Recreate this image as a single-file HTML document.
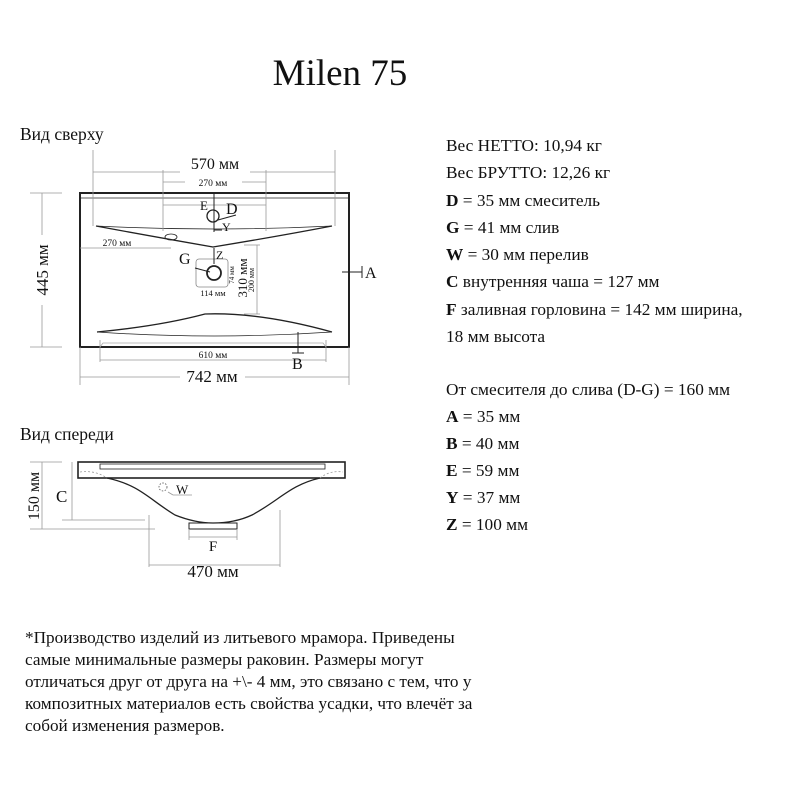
<!DOCTYPE html>
<html><head><meta charset="utf-8"><style>
body{margin:0;background:#fff}
svg{display:block}
text{font-family:"Liberation Serif",serif;fill:#111}
</style></head><body>
<svg width="800" height="800" viewBox="0 0 800 800" xmlns="http://www.w3.org/2000/svg">
<text x="340" y="85" font-size="37" text-anchor="middle">Milen 75</text>
<text x="20" y="140" font-size="17.5">Вид сверху</text>

<!-- top view -->
<g fill="none" stroke="#222" stroke-width="1.3">
<rect x="80" y="193" width="269" height="154" stroke-width="2"/>
<line x1="80" y1="198" x2="349" y2="198" stroke-width="0.7"/>
<path d="M96 226 Q150 236 213 247 Q280 236 332 226" />
<path d="M96 226 Q214 232 332 226" stroke-width="0.7"/>
<path d="M97 332 Q160 326 205 314 Q260 312 332 332"/>
<path d="M97 332 Q214 340 332 332" stroke-width="0.7"/>
<circle cx="213" cy="216" r="6"/>
<ellipse cx="171" cy="237" rx="6" ry="3" stroke-width="0.8"/>
<rect x="196" y="259" width="32" height="28" rx="3" stroke="#888" stroke-width="0.8"/>
<circle cx="214" cy="273" r="7" stroke-width="1.8"/>
<path d="M100 347 L103 343 L323 343 L326 347" stroke="#aaa" stroke-width="0.8"/>
</g>
<g stroke="#999" stroke-width="0.8" fill="none">
<line x1="93" y1="150" x2="93" y2="226"/><line x1="335" y1="150" x2="335" y2="226"/>
<line x1="93" y1="172" x2="180" y2="172"/><line x1="250" y1="172" x2="335" y2="172"/>
<line x1="163" y1="170" x2="163" y2="231"/><line x1="266" y1="170" x2="266" y2="231"/>
<line x1="163" y1="182" x2="185" y2="182"/><line x1="242" y1="182" x2="266" y2="182"/>
<line x1="163" y1="205" x2="266" y2="205"/>
<line x1="80" y1="248" x2="171" y2="248"/>
<line x1="257" y1="245" x2="257" y2="314"/><line x1="244" y1="245" x2="260" y2="245"/><line x1="244" y1="314" x2="260" y2="314"/>
<line x1="100" y1="340" x2="100" y2="362"/><line x1="326" y1="340" x2="326" y2="362"/>
<line x1="100" y1="360" x2="326" y2="360"/>
<line x1="80" y1="347" x2="80" y2="385"/><line x1="349" y1="347" x2="349" y2="385"/>
<line x1="80" y1="377" x2="180" y2="377"/><line x1="245" y1="377" x2="349" y2="377"/>
<line x1="30" y1="193" x2="62" y2="193"/><line x1="30" y1="347" x2="62" y2="347"/>
<line x1="42" y1="193" x2="42" y2="235"/><line x1="42" y1="305" x2="42" y2="347"/>
</g>
<g stroke="#222" stroke-width="1" fill="none">
<line x1="214" y1="193" x2="214" y2="232"/>
<line x1="214" y1="248" x2="214" y2="264"/>
<line x1="218" y1="220" x2="236" y2="215"/>
<line x1="214" y1="230" x2="222" y2="230"/>
<line x1="195" y1="268" x2="210" y2="272"/>
<line x1="342" y1="272" x2="362" y2="272"/><line x1="362" y1="266" x2="362" y2="278"/>
<line x1="298" y1="332" x2="298" y2="353"/><line x1="292" y1="353" x2="304" y2="353"/>
</g>
<text x="215" y="169" font-size="16" text-anchor="middle">570 мм</text>
<text x="213" y="186" font-size="9.5" text-anchor="middle">270 мм</text>
<text x="117" y="246" font-size="9.5" text-anchor="middle">270 мм</text>
<text x="200" y="210" font-size="13">E</text>
<text x="226" y="214" font-size="16">D</text>
<text x="222" y="231" font-size="12">Y</text>
<text x="216" y="259" font-size="12">Z</text>
<text x="179" y="264" font-size="16">G</text>
<text x="213" y="296" font-size="8.5" text-anchor="middle">114 мм</text>
<text transform="translate(234,275) rotate(-90)" font-size="7" text-anchor="middle">74 мм</text>
<text transform="translate(247,278) rotate(-90)" font-size="13" text-anchor="middle">310 мм</text>
<text transform="translate(254,280) rotate(-90)" font-size="8" text-anchor="middle">200 мм</text>
<text x="365" y="278" font-size="16">A</text>
<text x="213" y="358" font-size="9.5" text-anchor="middle">610 мм</text>
<text x="292" y="369" font-size="16">B</text>
<text x="212" y="382" font-size="17" text-anchor="middle">742 мм</text>
<text transform="translate(48,270) rotate(-90)" font-size="17" text-anchor="middle">445 мм</text>

<!-- front view -->
<text x="20" y="440" font-size="17.5">Вид спереди</text>
<g fill="none" stroke="#222" stroke-width="1.3">
<rect x="78" y="462" width="267" height="16" stroke-width="1.6"/>
<rect x="100" y="464" width="225" height="5" stroke-width="0.8"/>
<path d="M107 478 C140 485 150 500 175 515 Q195 523 213 523 Q235 523 252 515 C280 500 290 485 320 478"/>
<rect x="189" y="523" width="48" height="6" stroke-width="1"/>
</g>
<g fill="none" stroke="#999" stroke-width="0.8">
<path d="M80 472 Q95 470 107 478" stroke-dasharray="2 2"/>
<path d="M320 478 Q330 470 343 472" stroke-dasharray="2 2"/>
<circle cx="163" cy="487" r="4" stroke-dasharray="1.5 1.5" stroke="#555"/>
<line x1="168" y1="492" x2="173" y2="495"/><line x1="173" y1="495" x2="192" y2="495"/>
<line x1="30" y1="462" x2="62" y2="462"/><line x1="30" y1="529" x2="155" y2="529"/>
<line x1="42" y1="462" x2="42" y2="529"/>
<line x1="62" y1="520" x2="145" y2="520"/>
<line x1="72" y1="462" x2="72" y2="520"/>
<line x1="189" y1="529" x2="189" y2="540"/><line x1="237" y1="529" x2="237" y2="540"/>
<line x1="189" y1="537" x2="237" y2="537"/>
<line x1="149" y1="515" x2="149" y2="567"/><line x1="280" y1="510" x2="280" y2="567"/>
<line x1="149" y1="565" x2="280" y2="565"/>
</g>
<text x="56" y="502" font-size="17">C</text>
<text x="176" y="494" font-size="13">W</text>
<text x="213" y="551" font-size="15" text-anchor="middle">F</text>
<text x="213" y="577" font-size="17" text-anchor="middle">470 мм</text>
<text transform="translate(39,496) rotate(-90)" font-size="16" text-anchor="middle">150 мм</text>

<!-- right column -->
<g font-size="17.3">
<text x="446" y="151">Вес НЕТТО: 10,94 кг</text>
<text x="446" y="178">Вес БРУТТО: 12,26 кг</text>
<text x="446" y="206"><tspan font-weight="bold">D</tspan> = 35 мм смеситель</text>
<text x="446" y="233"><tspan font-weight="bold">G</tspan> = 41 мм слив</text>
<text x="446" y="260"><tspan font-weight="bold">W</tspan> = 30 мм перелив</text>
<text x="446" y="287"><tspan font-weight="bold">C</tspan> внутренняя чаша = 127 мм</text>
<text x="446" y="315"><tspan font-weight="bold">F</tspan> заливная горловина = 142 мм ширина,</text>
<text x="446" y="342">18 мм высота</text>
<text x="446" y="395">От смесителя до слива (D-G) = 160 мм</text>
<text x="446" y="422"><tspan font-weight="bold">A</tspan> = 35 мм</text>
<text x="446" y="449"><tspan font-weight="bold">B</tspan> = 40 мм</text>
<text x="446" y="476"><tspan font-weight="bold">E</tspan> = 59 мм</text>
<text x="446" y="503"><tspan font-weight="bold">Y</tspan> = 37 мм</text>
<text x="446" y="530"><tspan font-weight="bold">Z</tspan> = 100 мм</text>
</g>

<g font-size="17.2">
<text x="25" y="643">*Производство изделий из литьевого мрамора. Приведены</text>
<text x="25" y="665">самые минимальные размеры раковин. Размеры могут</text>
<text x="25" y="687">отличаться друг от друга на +\- 4 мм, это связано с тем, что у</text>
<text x="25" y="709">композитных материалов есть свойства усадки, что влечёт за</text>
<text x="25" y="731">собой изменения размеров.</text>
</g>
</svg>
</body></html>
